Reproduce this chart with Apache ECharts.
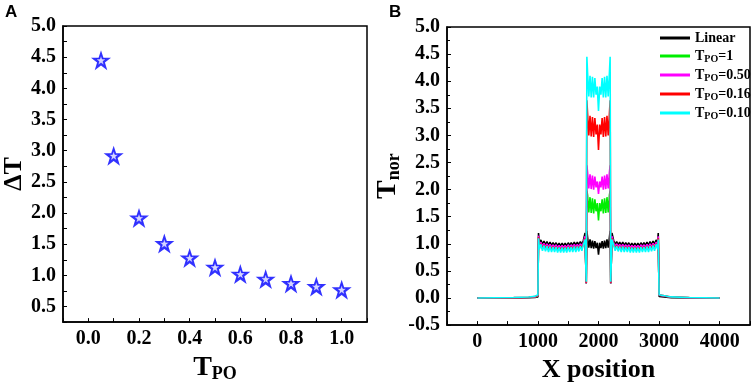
<!DOCTYPE html>
<html>
<head>
	<meta charset="utf-8"/>
	<title>Tpo chart</title>
</head>
<body style="margin: 0; background: #fff;">

	<div id="chart" style="width: 754px; height: 388px;"></div>

	<script src="https://cdn.jsdelivr.net/npm/echarts@6/dist/echarts.min.js"></script>
	<script>

		// ---- panel A: delta T vs Tpo ----
		var tpoList = [0.05, 0.1, 0.2, 0.3, 0.4, 0.5, 0.6, 0.7, 0.8, 0.9, 1.0];
		var deltaTList = [4.45, 2.92, 1.92, 1.51, 1.28, 1.13, 1.02, 0.94, 0.87, 0.82, 0.77];

		// ---- panel B: normalised T along x ----
		var xPos = [
			0, 300, 600, 850, 950, 1000,
			1010,
			1025, 1050, 1075, 1100, 1125, 1150, 1175, 1200, 1225, 1250, 1275, 1300, 1325, 1350, 1375,
			1400, 1425, 1450, 1475, 1500, 1525, 1550, 1575, 1600, 1625, 1650, 1675, 1700, 1725, 1750,
			1778, 1798, 1808,
			1820, 1840, 1860, 1880, 1900, 1920, 1940, 1960, 1980, 2000, 2020, 2040, 2060, 2080, 2100,
			2120, 2140, 2160, 2180,
			2192, 2202, 2222,
			2250, 2275, 2300, 2325, 2350, 2375, 2400, 2425, 2450, 2475, 2500, 2525, 2550, 2575, 2600,
			2625, 2650, 2675, 2700, 2725, 2750, 2775, 2800, 2825, 2850, 2875, 2900, 2925, 2950, 2975,
			2986, 3000, 3030, 3200, 3500, 4000
		];

		var linearT = [
			0, 0, 0, 0.005, 0.01, 0.02,
			1.2,
			1.02, 1.07, 0.99, 1.05, 0.98, 1.04, 0.97, 1.03, 0.97, 1.02, 0.97, 1.02, 0.96, 1.01, 0.96,
			1.01, 0.96, 1.01, 0.96, 1.02, 0.97, 1.02, 0.97, 1.03, 0.97, 1.03, 0.98, 1.04, 0.99, 1.06,
			1.2, 0.27, 1.24,
			1.12, 0.93, 1.08, 0.92, 1.06, 0.91, 1.05, 0.92, 1.02, 0.80, 1.02, 0.92, 1.05, 0.91, 1.06,
			0.92, 1.08, 0.93, 1.12,
			1.24, 0.27, 1.2,
			1.06, 0.99, 1.04, 0.98, 1.03, 0.97, 1.03, 0.97, 1.02, 0.97, 1.02, 0.96, 1.01, 0.96, 1.01,
			0.96, 1.01, 0.96, 1.02, 0.97, 1.02, 0.97, 1.03, 0.97, 1.04, 0.98, 1.05, 0.99, 1.07, 1.02,
			1.2, 0.03, 0.01, 0.005, 0, 0
		];

		var tpo1T = [
			0, 0, 0.005, 0.01, 0.02, 0.035,
			1.13,
			0.96, 1.01, 0.93, 0.99, 0.92, 0.98, 0.91, 0.97, 0.91, 0.96, 0.91, 0.96, 0.90, 0.95, 0.90,
			0.95, 0.90, 0.95, 0.90, 0.96, 0.91, 0.96, 0.91, 0.97, 0.91, 0.97, 0.92, 0.98, 0.93, 1.00,
			1.12, 0.27, 1.98,
			1.90, 1.58, 1.86, 1.57, 1.84, 1.56, 1.82, 1.60, 1.75, 1.43, 1.75, 1.60, 1.82, 1.56, 1.84,
			1.57, 1.86, 1.58, 1.90,
			1.98, 0.27, 1.12,
			1.00, 0.93, 0.98, 0.92, 0.97, 0.91, 0.97, 0.91, 0.96, 0.91, 0.96, 0.90, 0.95, 0.90, 0.95,
			0.90, 0.95, 0.90, 0.96, 0.91, 0.96, 0.91, 0.97, 0.91, 0.98, 0.92, 0.99, 0.93, 1.01, 0.96,
			1.12, 0.05, 0.03, 0.015, 0.005, 0
		];

		var tpo050T = [
			0, 0, 0.005, 0.01, 0.02, 0.04,
			1.15,
			0.98, 1.03, 0.95, 1.01, 0.94, 1.00, 0.93, 0.99, 0.93, 0.98, 0.93, 0.98, 0.92, 0.97, 0.92,
			0.97, 0.92, 0.97, 0.92, 0.98, 0.93, 0.98, 0.93, 0.99, 0.93, 0.99, 0.94, 1.00, 0.95, 1.02,
			1.14, 0.27, 2.45,
			2.32, 2.02, 2.28, 2.01, 2.26, 2.00, 2.24, 2.04, 2.15, 1.92, 2.15, 2.04, 2.24, 2.00, 2.26,
			2.01, 2.28, 2.02, 2.32,
			2.45, 0.27, 1.14,
			1.02, 0.95, 1.00, 0.94, 0.99, 0.93, 0.99, 0.93, 0.98, 0.93, 0.98, 0.92, 0.97, 0.92, 0.97,
			0.92, 0.97, 0.92, 0.98, 0.93, 0.98, 0.93, 0.99, 0.93, 1.00, 0.94, 1.01, 0.95, 1.03, 0.98,
			1.14, 0.05, 0.03, 0.015, 0.005, 0
		];

		var tpo016T = [
			0, 0.003, 0.007, 0.015, 0.025, 0.05,
			1.12,
			0.94, 1.00, 0.91, 0.98, 0.90, 0.97, 0.89, 0.96, 0.89, 0.95, 0.89, 0.95, 0.88, 0.94, 0.88,
			0.94, 0.88, 0.94, 0.88, 0.95, 0.89, 0.95, 0.89, 0.96, 0.89, 0.96, 0.90, 0.97, 0.91, 0.99,
			1.1, 0.28, 3.65,
			3.40, 3.00, 3.36, 2.98, 3.34, 2.97, 3.32, 3.02, 3.20, 2.73, 3.20, 3.02, 3.32, 2.97, 3.34,
			2.98, 3.36, 3.00, 3.40,
			3.65, 0.28, 1.1,
			0.99, 0.91, 0.97, 0.90, 0.96, 0.89, 0.96, 0.89, 0.95, 0.89, 0.95, 0.88, 0.94, 0.88, 0.94,
			0.88, 0.94, 0.88, 0.95, 0.89, 0.95, 0.89, 0.96, 0.89, 0.97, 0.90, 0.98, 0.91, 1.00, 0.94,
			1.1, 0.06, 0.035, 0.02, 0.008, 0
		];

		var tpo010T = [
			0, 0.004, 0.008, 0.018, 0.03, 0.06,
			1.1,
			0.90, 0.99, 0.87, 0.97, 0.86, 0.96, 0.85, 0.95, 0.85, 0.94, 0.85, 0.94, 0.84, 0.93, 0.84,
			0.93, 0.84, 0.93, 0.84, 0.94, 0.85, 0.94, 0.85, 0.95, 0.85, 0.95, 0.86, 0.96, 0.87, 0.98,
			1.08, 0.3, 4.45,
			4.15, 3.72, 4.10, 3.70, 4.08, 3.70, 4.06, 3.75, 3.90, 3.45, 3.90, 3.75, 4.06, 3.70, 4.08,
			3.70, 4.10, 3.72, 4.15,
			4.45, 0.3, 1.08,
			0.98, 0.87, 0.96, 0.86, 0.95, 0.85, 0.95, 0.85, 0.94, 0.85, 0.94, 0.84, 0.93, 0.84, 0.93,
			0.84, 0.93, 0.84, 0.94, 0.85, 0.94, 0.85, 0.95, 0.85, 0.96, 0.86, 0.97, 0.87, 0.99, 0.90,
			1.08, 0.06, 0.04, 0.02, 0.01, 0
		];

		var lineNames = ['Linear', 'TPO=1', 'TPO=0.50', 'TPO=0.16', 'TPO=0.10'];
		var lineColors = ['#000000', '#00ee00', '#ff00ff', '#ff0000', '#00ffff'];
		var lineValues = [linearT, tpo1T, tpo050T, tpo016T, tpo010T];

		var serif = '"Liberation Serif", "Times New Roman", serif';
		var starPath = 'path://M50,2 L61.5,36 L97,36 L68.5,57.5 L79.5,92 L50,71 L20.5,92 L31.5,57.5 L3,36 L38.5,36 Z';

		var oChart = document.getElementById('chart');
		var myChart = echarts.init(oChart);

		function makeAxisStyle () {
			return {
				axisLine: { show: true, onZero: false, lineStyle: { color: '#000', width: 1.5 } },
				axisTick: { show: true, inside: true, length: 4, lineStyle: { color: '#000', width: 1 } },
				splitLine: { show: false }
			};
		}

		function labelStyle (fmt) {
			return {
				color: '#000',
				fontFamily: serif,
				fontWeight: 'bold',
				fontSize: 20,
				margin: 7,
				formatter: fmt
			};
		}

		function near (v, step) {
			return Math.abs(v / step - Math.round(v / step)) < 1e-6;
		}

		var subRich = {
			t: { fontFamily: serif, fontWeight: 'bold', fontSize: 28, color: '#000' },
			s: { fontFamily: serif, fontWeight: 'bold', fontSize: 18, color: '#000', padding: [12, 0, 0, 0] }
		};

		var lineSeries = lineNames.map(function (name, k) {
			return {
				name: name,
				type: 'line',
				xAxisIndex: 1,
				yAxisIndex: 1,
				showSymbol: false,
				symbol: 'none',
				lineStyle: { color: lineColors[k], width: 1.6 },
				itemStyle: { color: lineColors[k] },
				data: xPos.map(function (x, i) { return [x, lineValues[k][i]]; })
			};
		});

		var starData = tpoList.map(function (x, i) { return [x, deltaTList[i]]; });

		var option = {
			animation: false,
			graphic: [
				{ type: 'text', left: 5, top: 4, style: { text: 'A', fontFamily: '"Liberation Sans", Arial, sans-serif', fontWeight: 'bold', fontSize: 17, fill: '#000' } },
				{ type: 'text', left: 389, top: 4, style: { text: 'B', fontFamily: '"Liberation Sans", Arial, sans-serif', fontWeight: 'bold', fontSize: 17, fill: '#000' } }
			],
			grid: [
				{ left: 61, right: 387, top: 26, bottom: 56, show: true, borderColor: '#000', borderWidth: 1.5 },
				{ left: 447, right: 4, top: 27, bottom: 56, show: true, borderColor: '#000', borderWidth: 1.5 }
			],
			legend: {
				data: lineNames,
				orient: 'vertical',
				left: 660,
				top: 31,
				padding: 0,
				icon: 'rect',
				itemWidth: 30,
				itemHeight: 3,
				itemGap: 4,
				textStyle: {
					color: '#000',
					fontFamily: serif,
					fontWeight: 'bold',
					fontSize: 14,
					rich: {
						t: { fontFamily: serif, fontWeight: 'bold', fontSize: 14, color: '#000' },
						s: { fontFamily: serif, fontWeight: 'bold', fontSize: 10, color: '#000', padding: [6, 0, 0, 0] }
					}
				},
				formatter: function (name) {
					if (name.indexOf('TPO') === 0) {
						return '{t|T}{s|PO}{t|' + name.slice(3) + '}';
					}
					return '{t|' + name + '}';
				}
			},
			xAxis: [
				Object.assign(makeAxisStyle(), {
					type: 'value',
					gridIndex: 0,
					min: -0.1,
					max: 1.1,
					interval: 0.1,
					axisLabel: labelStyle(function (v) {
						var k = Math.round(v * 10);
						return (k >= 0 && k <= 10 && k % 2 === 0) ? (k / 10).toFixed(1) : '';
					}),
					name: '{t|T}{s|PO}',
					nameLocation: 'middle',
					nameGap: 26,
					nameTextStyle: { rich: subRich }
				}),
				Object.assign(makeAxisStyle(), {
					type: 'value',
					gridIndex: 1,
					min: -500,
					max: 4500,
					interval: 500,
					axisLabel: labelStyle(function (v) {
						return (v >= 0 && v <= 4000 && v % 1000 === 0) ? String(v) : '';
					}),
					name: 'X position',
					nameLocation: 'middle',
					nameGap: 28,
					nameTextStyle: { color: '#000', fontFamily: serif, fontWeight: 'bold', fontSize: 26 }
				})
			],
			yAxis: [
				Object.assign(makeAxisStyle(), {
					type: 'value',
					gridIndex: 0,
					min: 0.25,
					max: 5,
					interval: 0.25,
					axisLabel: labelStyle(function (v) {
						return near(v, 0.5) ? v.toFixed(1) : '';
					}),
					name: 'ΔT',
					nameLocation: 'middle',
					nameGap: 36,
					nameTextStyle: { color: '#000', fontFamily: serif, fontWeight: 'bold', fontSize: 26 }
				}),
				Object.assign(makeAxisStyle(), {
					type: 'value',
					gridIndex: 1,
					min: -0.5,
					max: 5,
					interval: 0.5,
					minorTick: { show: true, splitNumber: 2, length: 3, lineStyle: { color: '#000', width: 1 } },
					axisLabel: labelStyle(function (v) {
						return v.toFixed(1);
					}),
					name: '{t|T}{s|nor}',
					nameLocation: 'middle',
					nameGap: 44,
					nameTextStyle: { rich: subRich }
				})
			],
			series: [
				{
					type: 'scatter',
					xAxisIndex: 0,
					yAxisIndex: 0,
					symbol: starPath,
					symbolSize: 20,
					itemStyle: { color: '#0000ff' },
					data: starData
				},
				{
					type: 'scatter',
					xAxisIndex: 0,
					yAxisIndex: 0,
					symbol: starPath,
					symbolSize: 10,
					itemStyle: { color: '#ffffff', borderColor: '#0000ff', borderWidth: 0.6 },
					data: starData
				}
			].concat(lineSeries)
		};

		myChart.setOption(option);

	</script>
</body>
</html>
